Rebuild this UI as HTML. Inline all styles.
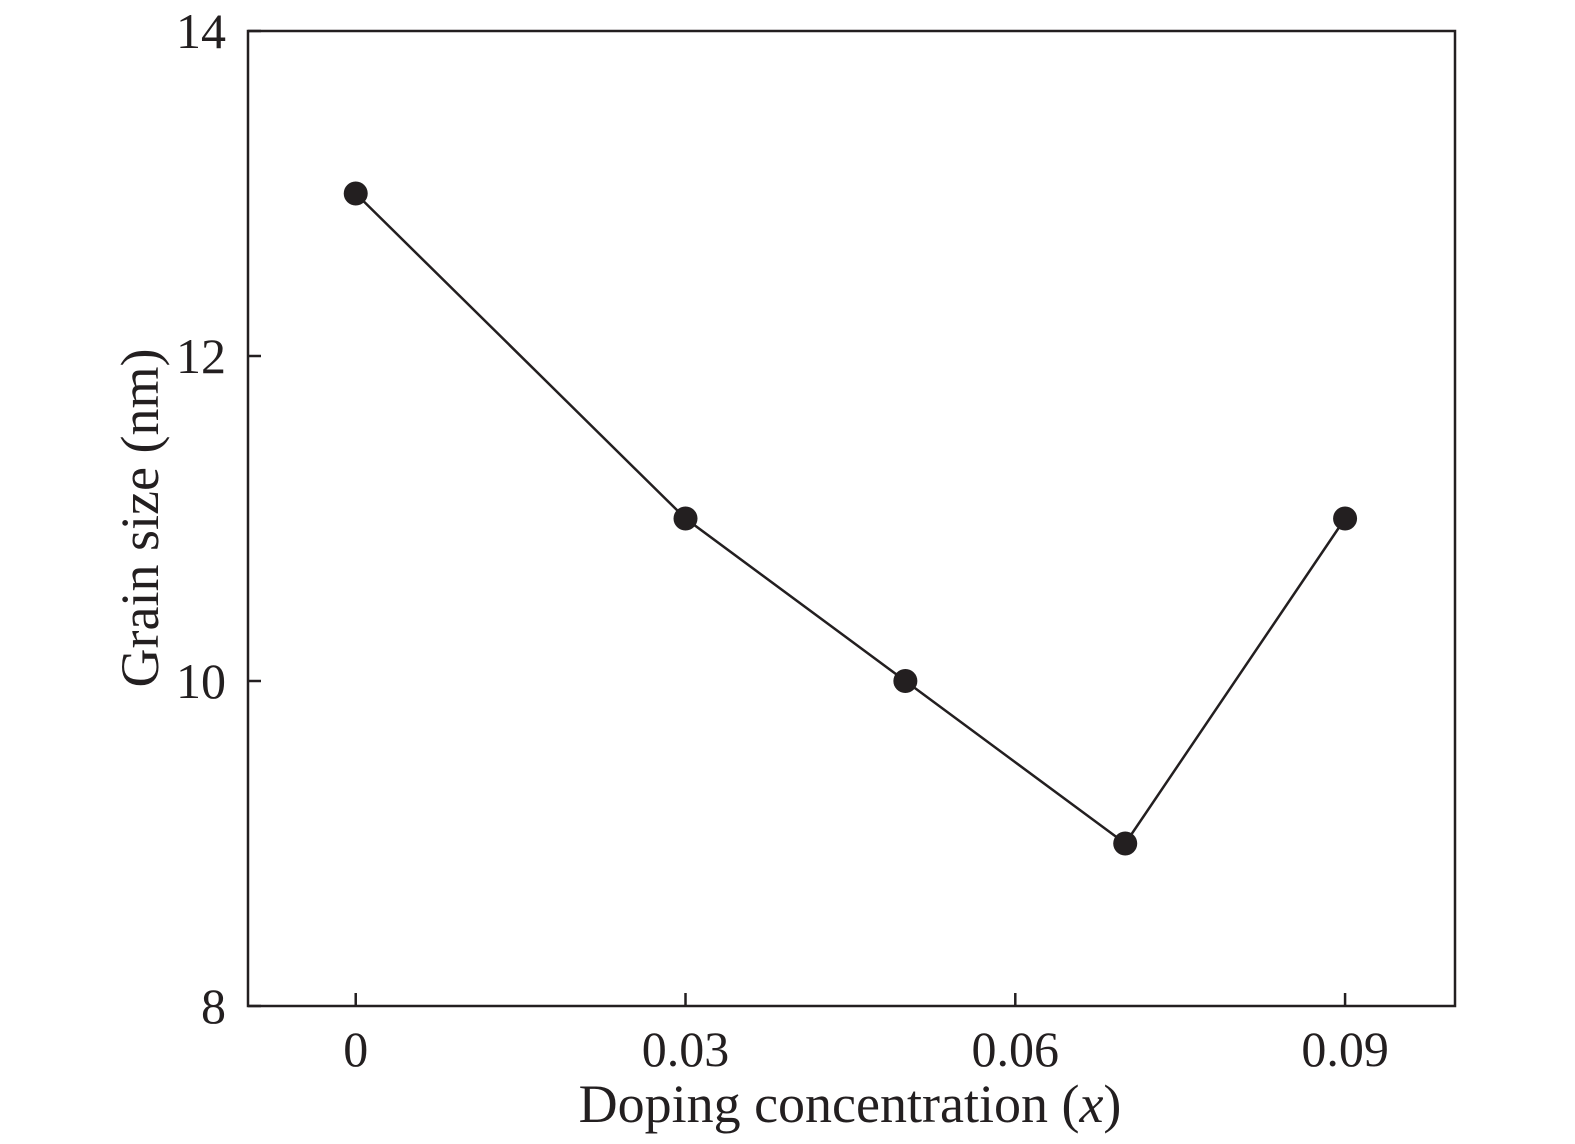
<!DOCTYPE html>
<html><head><meta charset="utf-8"><style>
html,body{margin:0;padding:0;background:#fff}
svg{display:block}
text{font-family:"Liberation Serif",serif;fill:#231f20}
</style></head><body>
<svg id="chart" width="1575" height="1144" viewBox="0 0 1575 1144" xmlns="http://www.w3.org/2000/svg"></svg>
<script>
const categories = [0, 0.03, 0.05, 0.07, 0.09];
const grainSize = [13, 11, 10, 9, 11];
const xTicks = [0, 0.03, 0.06, 0.09];
const xTickLabels = ["0", "0.03", "0.06", "0.09"];
const yTicks = [8, 10, 12, 14];
const yTickLabels = ["8", "10", "12", "14"];

const L=248,R=1455,T=31,B=1006;
const xMin=-0.0098,xMax=0.1,yMin=8,yMax=14;
const xs=v=>L+(v-xMin)/(xMax-xMin)*(R-L);
const ys=v=>B-(v-yMin)/(yMax-yMin)*(B-T);
const svg=document.getElementById('chart');
const NS='http://www.w3.org/2000/svg';
function mk(tag,attrs){const e=document.createElementNS(NS,tag);for(const k in attrs)e.setAttribute(k,attrs[k]);svg.appendChild(e);return e;}

const frame=mk('rect',{x:L,y:T,width:R-L,height:B-T,fill:'none',stroke:'#231f20','stroke-width':2.5});



xTicks.forEach((v,i)=>{
  const t=mk('line',{x1:xs(v),x2:xs(v),y1:B,y2:B-13,stroke:'#231f20','stroke-width':2.5});
  
  
  const l=mk('text',{x:xs(v),y:B+60,'font-size':50,'text-anchor':'middle'});
  l.textContent=xTickLabels[i];
  
  
});
yTicks.forEach((v,i)=>{
  const t=mk('line',{x1:L,x2:L+13,y1:ys(v),y2:ys(v),stroke:'#231f20','stroke-width':2.5});
  
  
  const l=mk('text',{x:L-22,y:ys(v)+17,'font-size':50,'text-anchor':'end'});
  l.textContent=yTickLabels[i];
  
  
});

const pts=categories.map((c,i)=>xs(c)+','+ys(grainSize[i])).join(' ');
const line=mk('polyline',{points:pts,fill:'none',stroke:'#231f20','stroke-width':2.5});


categories.forEach((c,i)=>{
  const p=mk('circle',{cx:xs(c),cy:ys(grainSize[i]),r:12,fill:'#231f20'});
  
  
});

const xt=mk('text',{x:850,y:1122,'font-size':54,'text-anchor':'middle'});
xt.innerHTML='Doping concentration (<tspan font-style="italic">x</tspan>)';


const yt=mk('text',{x:0,y:0,'font-size':54,'text-anchor':'middle',transform:'translate(158,518) rotate(-90)'});
yt.textContent='Grain size (nm)';


</script>
</body></html>
